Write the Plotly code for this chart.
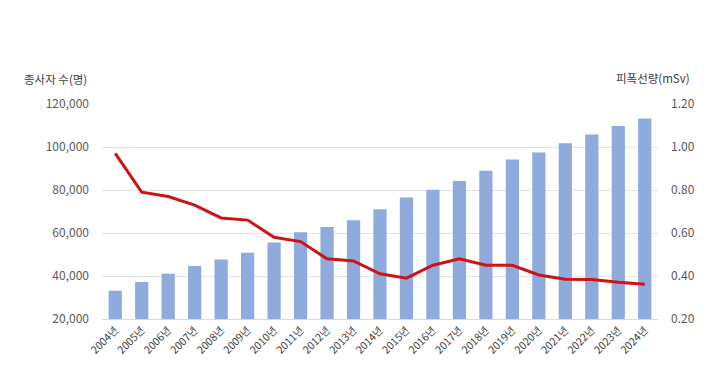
import plotly.graph_objects as go

years = [f"{y}년" for y in range(2004, 2025)]
workers = [33100, 37200, 41100, 44600, 47700, 50800, 55600, 60300, 62800, 65900, 71000,
           76500, 80100, 84200, 89000, 94200, 97400, 101800, 105800, 109800, 113300]
dose = [0.97, 0.79, 0.77, 0.73, 0.67, 0.66, 0.58, 0.56, 0.48, 0.47, 0.41,
        0.39, 0.45, 0.48, 0.45, 0.45, 0.405, 0.385, 0.384, 0.371, 0.362]

left_title = "종사자 수(명)"
right_title = "피폭선량(mSv)"

FONT = "Noto Sans CJK KR, Noto Sans, sans-serif"
TXT = "#595959"

fig = go.Figure()
fig.add_trace(go.Bar(x=years, y=workers, marker_color="#8faadc", marker_line_width=0,
                     yaxis="y", name="종사자 수"))
fig.add_trace(go.Scatter(x=years, y=dose, mode="lines", line=dict(color="#cc1414", width=3),
                         yaxis="y2", name="피폭선량"))

fig.update_layout(
    width=711, height=369,
    margin=dict(l=94, r=61, t=96, b=58, autoexpand=False),
    paper_bgcolor="white", plot_bgcolor="white",
    showlegend=False,
    bargap=0.5,
    font=dict(family=FONT, size=12, color=TXT),
    xaxis=dict(showgrid=False, showline=True, linecolor="#d9d9d9", ticks="",
               tickangle=-45, tickfont=dict(size=10.5, color="#404040"), automargin=False),
    yaxis=dict(range=[20000, 120000], dtick=20000, tickformat=",.0f", showgrid=True,
               gridcolor="#e3e3e3", zeroline=False, showline=False, ticks="",
               ticklabelstandoff=12, automargin=False, tickfont=dict(size=12, color=TXT)),
    yaxis2=dict(range=[0.2, 1.2], dtick=0.2, tickformat=".2f", overlaying="y", side="right",
                showgrid=False, zeroline=False, showline=False, ticks="",
                ticklabelstandoff=12, automargin=False, tickfont=dict(size=12, color=TXT)),
    annotations=[
        dict(text=left_title, xref="paper", yref="paper", x=0, y=1, xanchor="right",
             yanchor="middle", xshift=-13, yshift=25, showarrow=False,
             font=dict(size=11.5, color="#404040", family=FONT)),
        dict(text=right_title, xref="paper", yref="paper", x=1, y=1, xanchor="right",
             yanchor="middle", xshift=34, yshift=26, showarrow=False,
             font=dict(size=11.5, color="#404040", family=FONT)),
    ],
)

fig.write_html("out.html")
